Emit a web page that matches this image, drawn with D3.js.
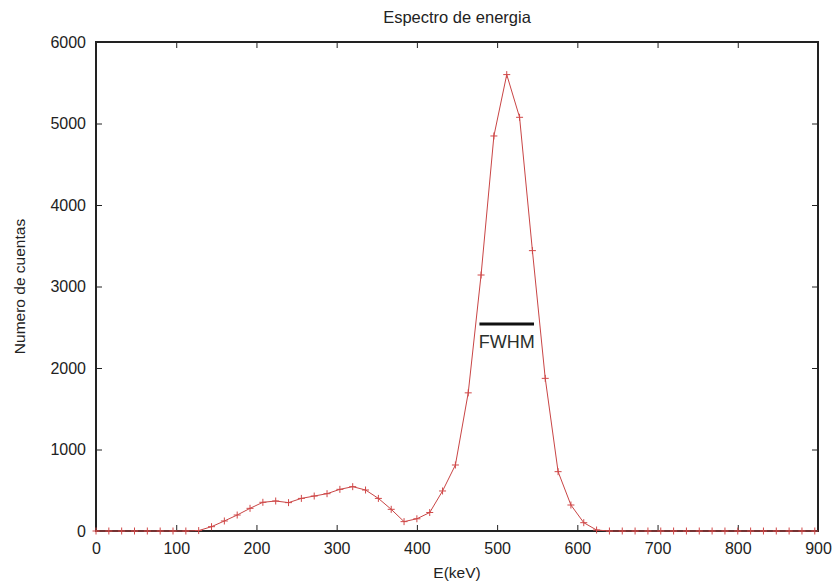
<!DOCTYPE html>
<html>
<head>
<meta charset="utf-8">
<script src="https://cdn.jsdelivr.net/npm/d3@7"></script>
<style>
  body { margin: 0; background: #fff; }
  svg { display: block; font-family: "Liberation Sans", Arial, sans-serif; }
</style>
</head>
<body>
<div id="chart"></div>
<script>
// energy channels (keV) and counts
var energy = [0, 16, 32, 48, 64, 80, 96, 112, 128, 144, 160, 176, 192, 208, 224, 240,
	256, 272, 288, 304, 320, 336, 352, 368, 384, 400, 416, 432, 448, 464, 480, 496,
	512, 528, 544, 560, 576, 592, 608, 624, 640, 656, 672, 688, 704, 720, 736, 752,
	768, 784, 800, 816, 832, 848, 864, 880, 896];
var counts = [0, 0, 0, 0, 0, 0, 0, 0, 5, 53, 123, 196, 278, 352, 368, 348,
	400, 429, 458, 511, 544, 503, 400, 266, 115, 150, 227, 491, 810, 1695, 3141, 4847,
	5600, 5076, 3440, 1873, 728, 319, 102, 12, 0, 0, 0, 0, 0, 0, 0, 0,
	0, 0, 0, 0, 0, 0, 0, 0, 0];
var xTicks = [0, 100, 200, 300, 400, 500, 600, 700, 800, 900];
var yTicks = [0, 1000, 2000, 3000, 4000, 5000, 6000];
var fwhmRange = [478, 546];
var fwhmLevel = 2540;

var width = 833,
	height = 581,
	margin = {top: 42, right: 15, bottom: 50, left: 96};

var svg = d3.select("#chart").append("svg")
	.attr("width", width)
	.attr("height", height);

var x = d3.scaleLinear().domain([0, 900]).range([margin.left, width - margin.right]);
var y = d3.scaleLinear().domain([0, 6000]).range([height - margin.bottom, margin.top]);

var tickColor = "#222";
var fmt = d3.format("d");

// bottom + top ticks
svg.append("g")
	.attr("transform", "translate(0," + y(0) + ")")
	.call(d3.axisBottom(x).tickValues(xTicks).tickFormat(fmt).tickSize(-6).tickPadding(12))
	.call(function(g) { g.select(".domain").remove(); });
svg.append("g")
	.attr("transform", "translate(0," + y(6000) + ")")
	.call(d3.axisTop(x).tickValues(xTicks).tickSize(-6).tickFormat(""))
	.call(function(g) { g.select(".domain").remove(); });

// left + right ticks
svg.append("g")
	.attr("transform", "translate(" + x(0) + ",0)")
	.call(d3.axisLeft(y).tickValues(yTicks).tickFormat(fmt).tickSize(-6).tickPadding(10))
	.call(function(g) { g.select(".domain").remove(); });
svg.append("g")
	.attr("transform", "translate(" + x(900) + ",0)")
	.call(d3.axisRight(y).tickValues(yTicks).tickSize(-6).tickFormat(""))
	.call(function(g) { g.select(".domain").remove(); });

svg.selectAll(".tick line").attr("stroke", tickColor).attr("stroke-width", 1);
svg.selectAll(".tick text")
	.attr("fill", "#222")
	.style("font-size", "16px")
	.style("font-family", "'Liberation Sans', Arial, sans-serif");

// frame
svg.append("rect")
	.attr("x", x(0)).attr("y", y(6000))
	.attr("width", x(900) - x(0)).attr("height", y(0) - y(6000))
	.attr("fill", "none")
	.attr("stroke", tickColor)
	.attr("stroke-width", 2);

var pts = energy.map(function(e, i) { return [e, counts[i]]; });

var line = d3.line()
	.x(function(d) { return x(d[0]); })
	.y(function(d) { return y(d[1]); });

svg.append("path")
	.datum(pts)
	.attr("fill", "none")
	.attr("stroke", "#c94545")
	.attr("stroke-width", 1)
	.attr("d", line);

// plus markers
var ms = 3.5;
svg.append("g").selectAll("path")
	.data(pts)
	.enter().append("path")
	.attr("d", function(d) {
		var px = x(d[0]), py = y(d[1]);
		return "M" + (px - ms) + "," + py + "H" + (px + ms) + "M" + px + "," + (py - ms) + "V" + (py + ms);
	})
	.attr("stroke", "#d04848")
	.attr("stroke-width", 1);

// FWHM bar + label
svg.append("line")
	.attr("x1", x(fwhmRange[0])).attr("x2", x(fwhmRange[1]))
	.attr("y1", y(fwhmLevel)).attr("y2", y(fwhmLevel))
	.attr("stroke", "#111")
	.attr("stroke-width", 3);
svg.append("text")
	.attr("x", (x(fwhmRange[0]) + x(fwhmRange[1])) / 2)
	.attr("y", y(fwhmLevel) + 24)
	.attr("text-anchor", "middle")
	.attr("fill", "#2a2f2c")
	.style("font-size", "18px")
	.text("FWHM");

// titles
svg.append("text")
	.attr("x", 457).attr("y", 23)
	.attr("text-anchor", "middle")
	.attr("fill", "#222")
	.style("font-size", "16.5px")
	.text("Espectro de energia");

svg.append("text")
	.attr("x", (x(0) + x(900)) / 2).attr("y", 578)
	.attr("text-anchor", "middle")
	.attr("fill", "#222")
	.style("font-size", "15.5px")
	.text("E(keV)");

svg.append("text")
	.attr("transform", "translate(25," + ((y(0) + y(6000)) / 2) + ") rotate(-90)")
	.attr("text-anchor", "middle")
	.attr("fill", "#222")
	.style("font-size", "15.5px")
	.text("Numero de cuentas");
</script>
</body>
</html>
